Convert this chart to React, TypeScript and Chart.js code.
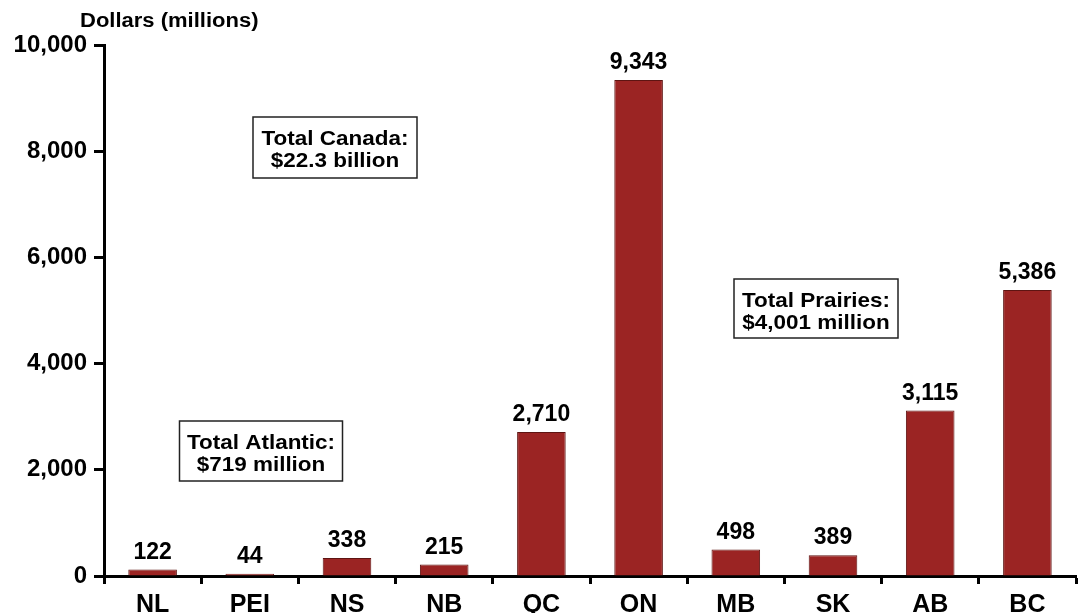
import React, { useEffect, useRef } from "react";
import { Chart, registerables } from "chart.js";

Chart.register(...registerables);

const provinces = ["NL", "PEI", "NS", "NB", "QC", "ON", "MB", "SK", "AB", "BC"];
const spending = [122, 44, 338, 215, 2710, 9343, 498, 389, 3115, 5386];
const valueLabels = ["122", "44", "338", "215", "2,710", "9,343", "498", "389", "3,115", "5,386"];
const yTicks = [0, 2000, 4000, 6000, 8000, 10000];
const axisTitle = "Dollars (millions)";
const notes = [
  { lines: ["Total Canada:", "$22.3 billion"], cx: 335, top: 117, w: 164, h: 61 },
  { lines: ["Total Atlantic:", "$719 million"], cx: 261, top: 421, w: 163, h: 60 },
  { lines: ["Total Prairies:", "$4,001 million"], cx: 816, top: 279, w: 164, h: 59 },
];

const FONT = '"Liberation Sans", Arial, sans-serif';

function stretchText(ctx: CanvasRenderingContext2D, text: string, x: number, y: number, sx: number) {
  ctx.save();
  ctx.translate(x, y);
  ctx.scale(sx, 1);
  ctx.fillText(text, 0, 0);
  ctx.restore();
}

export default function App() {
  const ref = useRef<HTMLCanvasElement | null>(null);
  useEffect(() => {
    document.body.style.margin = "0";
    const canvas = ref.current!;
    const overlay = {
      id: "overlay",
      afterDraw(chart: any) {
        const ctx = chart.ctx;
        ctx.save();
        ctx.fillStyle = "#000";
        ctx.font = `bold 20px ${FONT}`;
        ctx.textAlign = "left";
        ctx.textBaseline = "alphabetic";
        stretchText(ctx, axisTitle, 80, 27, 1.1);
        const meta = chart.getDatasetMeta(0);
        ctx.font = `bold 23px ${FONT}`;
        ctx.textAlign = "center";
        meta.data.forEach((bar: any, i: number) => {
          ctx.fillText(valueLabels[i], bar.x, bar.y - 11);
        });
        notes.forEach((n) => {
          ctx.strokeStyle = "#222";
          ctx.lineWidth = 1.5;
          ctx.fillStyle = "#fff";
          ctx.fillRect(n.cx - n.w / 2, n.top, n.w, n.h);
          ctx.strokeRect(n.cx - n.w / 2, n.top, n.w, n.h);
          ctx.fillStyle = "#000";
          ctx.font = `bold 21px ${FONT}`;
          ctx.textAlign = "center";
          stretchText(ctx, n.lines[0], n.cx, n.top + 28, 1.07);
          stretchText(ctx, n.lines[1], n.cx, n.top + 50, 1.07);
        });
        ctx.restore();
      },
    };
    const chart = new Chart(canvas, {
      type: "bar",
      data: {
        labels: provinces,
        datasets: [
          {
            data: spending,
            backgroundColor: "#9B2423",
            borderColor: "#5E1412",
            borderWidth: 1,
            barPercentage: 0.5,
            categoryPercentage: 1,
          },
        ],
      },
      options: {
        responsive: false,
        animation: false,
        layout: { padding: { left: 0, right: 10, top: 45, bottom: 0 } },
        plugins: { legend: { display: false }, tooltip: { enabled: false } },
        scales: {
          x: {
            grid: {
              offset: true,
              drawOnChartArea: false,
              tickLength: 8,
              tickWidth: 3,
              tickColor: "#000",
              color: "#000",
            },
            border: { color: "#000", width: 3 },
            ticks: {
              color: "#000",
              font: { family: FONT, size: 25, weight: "bold" },
              padding: 6,
              maxRotation: 0,
            },
            afterFit(scale: any) {
              scale.height = 37;
            },
          },
          y: {
            min: 0,
            max: 10000,
            afterBuildTicks(scale: any) {
              scale.ticks = yTicks.map((v) => ({ value: v }));
            },
            grid: {
              drawOnChartArea: false,
              tickLength: 10,
              tickWidth: 3,
              tickColor: "#000",
              color: "#000",
            },
            border: { color: "#000", width: 3 },
            ticks: {
              color: "#000",
              font: { family: FONT, size: 24, weight: "bold" },
              padding: 7,
              callback: (v: any) => Number(v).toLocaleString("en-US"),
            },
            afterFit(scale: any) {
              scale.width = 104;
            },
          },
        },
      },
      plugins: [overlay],
    });
    return () => chart.destroy();
  }, []);
  return (
    <div style={{ position: "absolute", left: 0, top: 0, width: 1086, height: 613, background: "#fff" }}>
      <canvas ref={ref} width={1086} height={613} />
    </div>
  );
}
